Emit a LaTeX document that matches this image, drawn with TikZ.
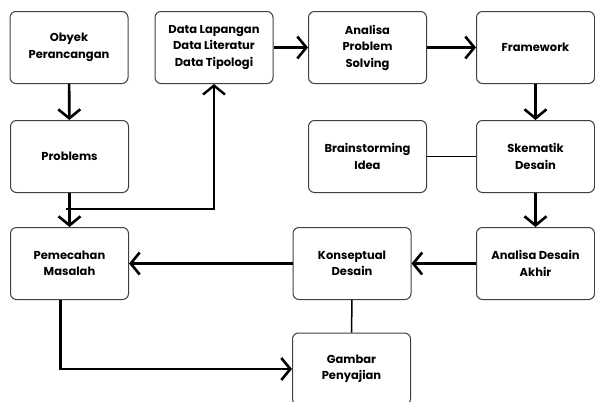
\documentclass[tikz,border=0pt]{standalone}
\usepackage{fontspec}
\setmainfont{Poppins}
\usetikzlibrary{arrows.meta}

\tikzset{
  box/.style={draw=black!75, line width=1pt, rounded corners=6pt,
    minimum width=118pt, minimum height=72pt, align=center,
    font=\fontsize{11.5}{16.5}\selectfont\bfseries},
  flow/.style={line width=2.6pt, -{Straight Barb[length=9pt,width=22pt]}},
  link/.style={line width=1.5pt},
}

\begin{document}
\begin{tikzpicture}[x=1pt, y=-1pt]
\useasboundingbox (0,0) rectangle (595,402);
\clip (0,0) rectangle (595,402);
% top row
\node[box] (obyek) at (69,47.5) {Obyek\\Perancangan};
\node[box] (data) at (214,47.5) {Data Lapangan\\Data Literatur\\Data Tipologi};
\node[box] (analisa) at (367.5,47.5) {Analisa\\Problem\\Solving};
\node[box] (framework) at (535.5,47.5) {Framework};
% middle row
\node[box] (problems) at (69.5,156.5) {Problems};
\node[box] (brainstorm) at (367.5,156.5) {Brainstorming\\Idea};
\node[box] (skematik) at (535.5,156.5) {Skematik\\Desain};
% lower rows
\node[box] (pemecahan) at (69.5,263.5) {Pemecahan\\Masalah};
\node[box] (konseptual) at (352,263.5) {Konseptual\\Desain};
\node[box] (akhir) at (535.5,263.5) {Analisa Desain\\Akhir};
\node[box] (gambar) at (351.5,369) {Gambar\\Penyajian};

% connectors
\draw[flow] (obyek) -- (problems);
\draw[flow] (problems) -- (pemecahan);
\coordinate (split) at (66,209);
\draw[link, -{Straight Barb[length=9pt,width=22pt,line width=2.4pt]}] (split) -| (data.south);
\draw[flow] (data) -- (analisa);
\draw[flow] (analisa) -- (framework);
\draw[flow] (framework) -- (skematik);
\draw[link] (brainstorm) -- (skematik);
\draw[flow] (skematik) -- (akhir);
\draw[flow] (akhir) -- (konseptual);
\draw[flow] (konseptual) -- (pemecahan);
\draw[link] (konseptual) -- (gambar);
\draw[flow] ([xshift=-9pt]pemecahan.south) |- (gambar.west);
\end{tikzpicture}
\end{document}
